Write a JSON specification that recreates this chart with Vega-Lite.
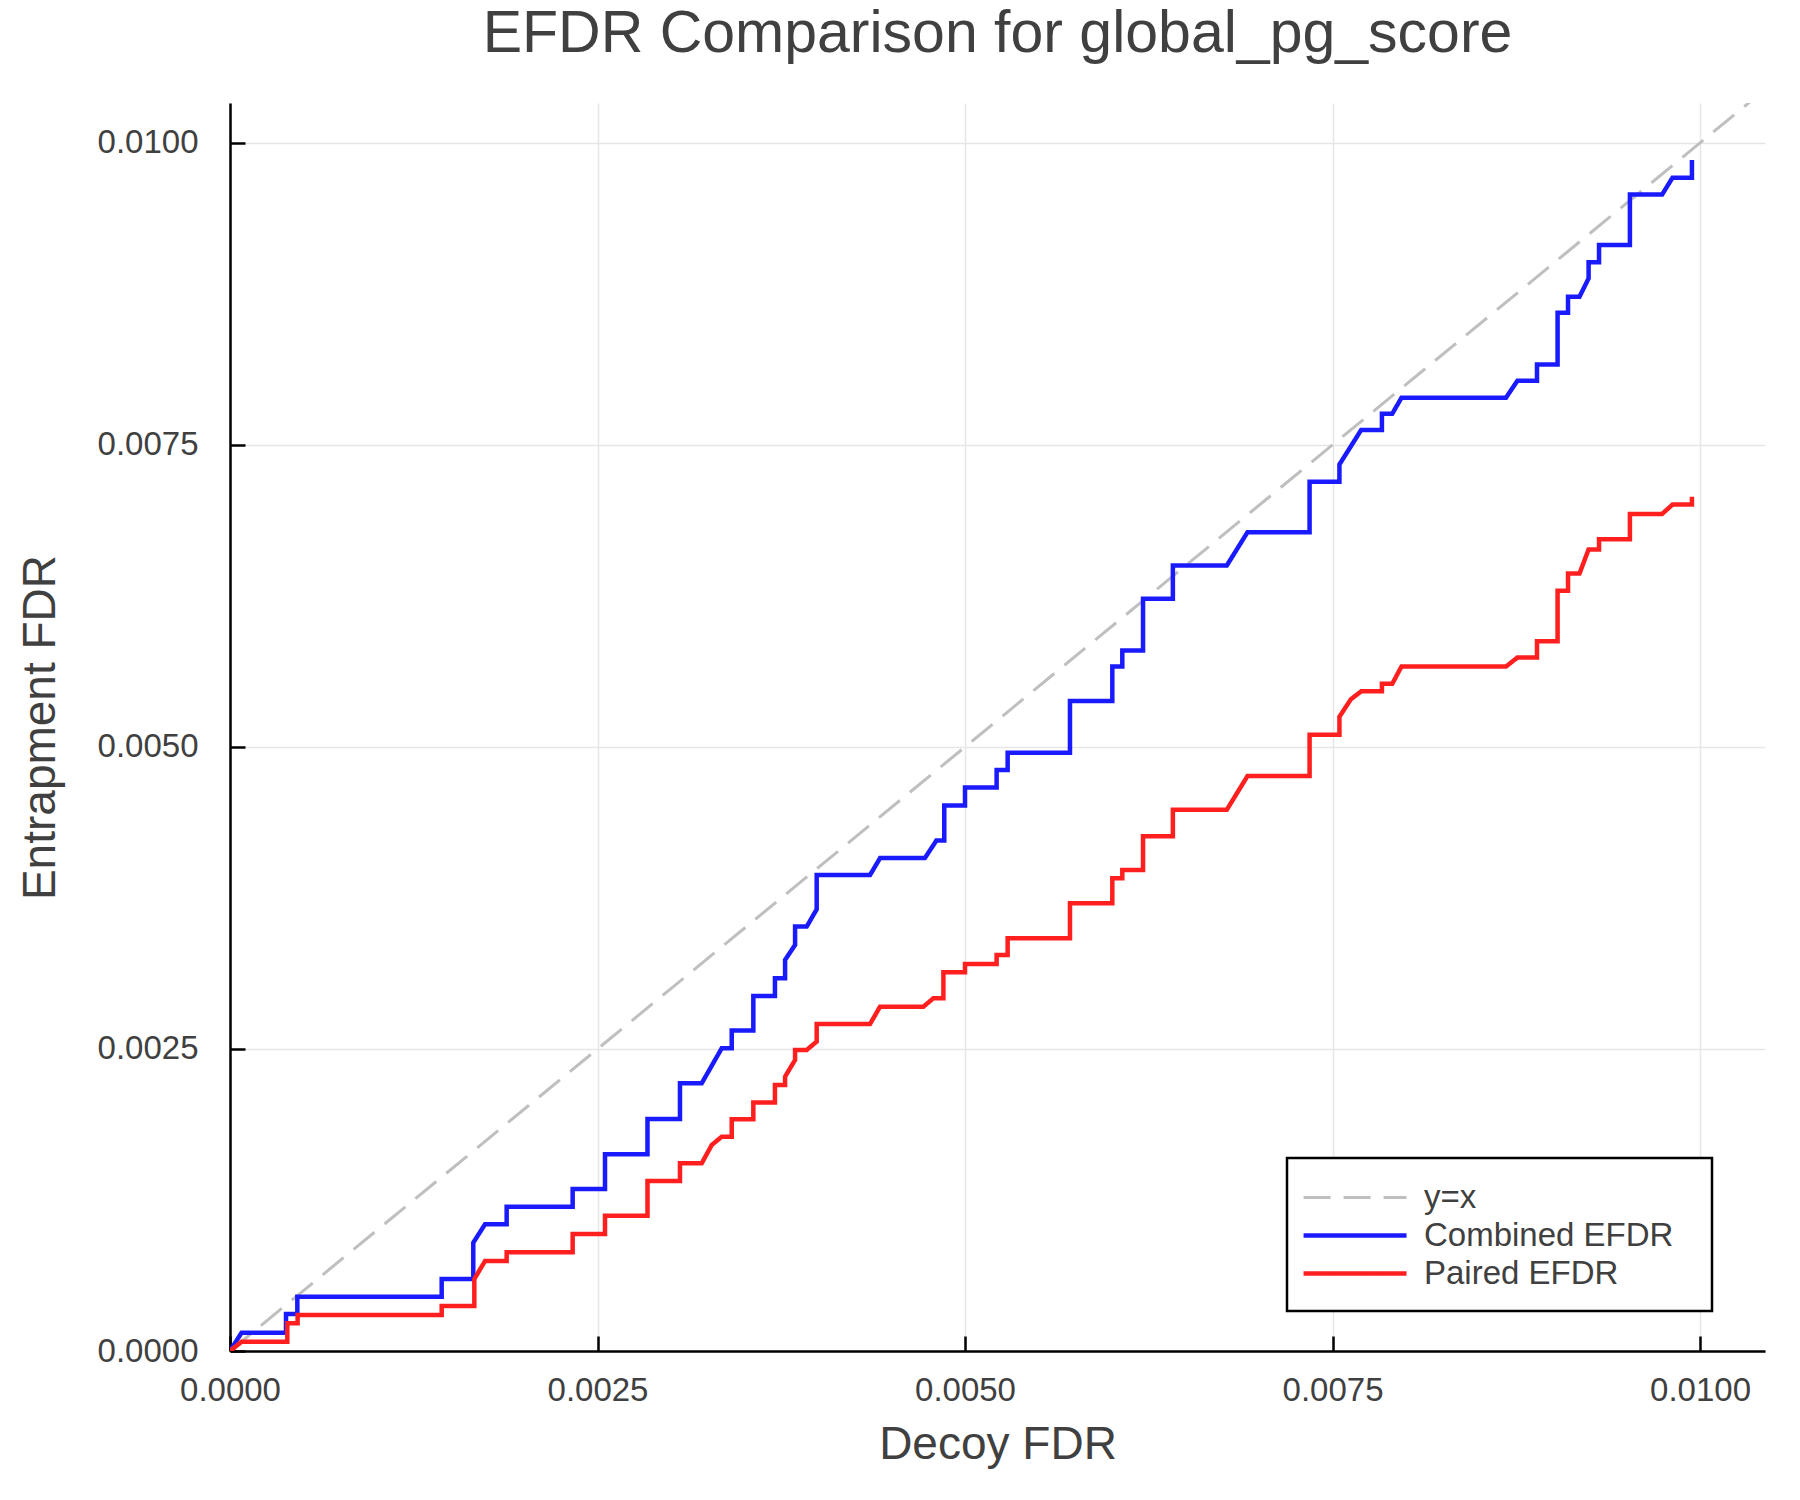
{
  "$schema": "https://vega.github.io/schema/vega-lite/v6.json",
  "width": 1535,
  "height": 1248,
  "autosize": "none",
  "padding": {"left": 230, "top": 103, "right": 35, "bottom": 149},
  "background": "white",
  "title": {
    "text": "EFDR Comparison for global_pg_score",
    "font": "Liberation Sans",
    "fontSize": 59,
    "fontWeight": "normal",
    "color": "#404040",
    "anchor": "middle",
    "baseline": "alphabetic",
    "offset": -8
  },
  "data": {
    "values": [
      {"s": "y=x", "i": 0, "x": 0, "y": 0},
      {"s": "y=x", "i": 1, "x": 0.0105, "y": 0.0105},
      {"s": "Combined EFDR", "i": 0, "x": 0, "y": 0},
      {"s": "Combined EFDR", "i": 1, "x": 0.000079, "y": 0.000152},
      {"s": "Combined EFDR", "i": 2, "x": 0.000381, "y": 0.000152},
      {"s": "Combined EFDR", "i": 3, "x": 0.000381, "y": 0.000306},
      {"s": "Combined EFDR", "i": 4, "x": 0.000458, "y": 0.000306},
      {"s": "Combined EFDR", "i": 5, "x": 0.000458, "y": 0.00045},
      {"s": "Combined EFDR", "i": 6, "x": 0.00144, "y": 0.00045},
      {"s": "Combined EFDR", "i": 7, "x": 0.00144, "y": 0.000596},
      {"s": "Combined EFDR", "i": 8, "x": 0.001655, "y": 0.000596},
      {"s": "Combined EFDR", "i": 9, "x": 0.001655, "y": 0.000897},
      {"s": "Combined EFDR", "i": 10, "x": 0.001735, "y": 0.001049},
      {"s": "Combined EFDR", "i": 11, "x": 0.001882, "y": 0.001049},
      {"s": "Combined EFDR", "i": 12, "x": 0.001882, "y": 0.001195},
      {"s": "Combined EFDR", "i": 13, "x": 0.002331, "y": 0.001195},
      {"s": "Combined EFDR", "i": 14, "x": 0.002331, "y": 0.001341},
      {"s": "Combined EFDR", "i": 15, "x": 0.002551, "y": 0.001341},
      {"s": "Combined EFDR", "i": 16, "x": 0.002551, "y": 0.001628},
      {"s": "Combined EFDR", "i": 17, "x": 0.00284, "y": 0.001628},
      {"s": "Combined EFDR", "i": 18, "x": 0.00284, "y": 0.001921},
      {"s": "Combined EFDR", "i": 19, "x": 0.003061, "y": 0.001921},
      {"s": "Combined EFDR", "i": 20, "x": 0.003061, "y": 0.002216},
      {"s": "Combined EFDR", "i": 21, "x": 0.003209, "y": 0.002216},
      {"s": "Combined EFDR", "i": 22, "x": 0.003345, "y": 0.002506},
      {"s": "Combined EFDR", "i": 23, "x": 0.003413, "y": 0.002506},
      {"s": "Combined EFDR", "i": 24, "x": 0.003413, "y": 0.002652},
      {"s": "Combined EFDR", "i": 25, "x": 0.00356, "y": 0.002652},
      {"s": "Combined EFDR", "i": 26, "x": 0.00356, "y": 0.002939},
      {"s": "Combined EFDR", "i": 27, "x": 0.003707, "y": 0.002939},
      {"s": "Combined EFDR", "i": 28, "x": 0.003707, "y": 0.003085},
      {"s": "Combined EFDR", "i": 29, "x": 0.003776, "y": 0.003085},
      {"s": "Combined EFDR", "i": 30, "x": 0.003776, "y": 0.003237},
      {"s": "Combined EFDR", "i": 31, "x": 0.003844, "y": 0.003361},
      {"s": "Combined EFDR", "i": 32, "x": 0.003844, "y": 0.003513},
      {"s": "Combined EFDR", "i": 33, "x": 0.003923, "y": 0.003513},
      {"s": "Combined EFDR", "i": 34, "x": 0.003991, "y": 0.003656},
      {"s": "Combined EFDR", "i": 35, "x": 0.003991, "y": 0.00394},
      {"s": "Combined EFDR", "i": 36, "x": 0.004354, "y": 0.00394},
      {"s": "Combined EFDR", "i": 37, "x": 0.004422, "y": 0.00408},
      {"s": "Combined EFDR", "i": 38, "x": 0.004727, "y": 0.00408},
      {"s": "Combined EFDR", "i": 39, "x": 0.004805, "y": 0.004225},
      {"s": "Combined EFDR", "i": 40, "x": 0.004859, "y": 0.004225},
      {"s": "Combined EFDR", "i": 41, "x": 0.004859, "y": 0.004515},
      {"s": "Combined EFDR", "i": 42, "x": 0.005, "y": 0.004515},
      {"s": "Combined EFDR", "i": 43, "x": 0.005, "y": 0.004665},
      {"s": "Combined EFDR", "i": 44, "x": 0.005215, "y": 0.004665},
      {"s": "Combined EFDR", "i": 45, "x": 0.005215, "y": 0.00481},
      {"s": "Combined EFDR", "i": 46, "x": 0.00529, "y": 0.00481},
      {"s": "Combined EFDR", "i": 47, "x": 0.00529, "y": 0.004952},
      {"s": "Combined EFDR", "i": 48, "x": 0.005714, "y": 0.004952},
      {"s": "Combined EFDR", "i": 49, "x": 0.005714, "y": 0.00538},
      {"s": "Combined EFDR", "i": 50, "x": 0.006002, "y": 0.00538},
      {"s": "Combined EFDR", "i": 51, "x": 0.006002, "y": 0.005665},
      {"s": "Combined EFDR", "i": 52, "x": 0.00607, "y": 0.005665},
      {"s": "Combined EFDR", "i": 53, "x": 0.00607, "y": 0.005798},
      {"s": "Combined EFDR", "i": 54, "x": 0.006211, "y": 0.005798},
      {"s": "Combined EFDR", "i": 55, "x": 0.006211, "y": 0.006226},
      {"s": "Combined EFDR", "i": 56, "x": 0.006414, "y": 0.006226},
      {"s": "Combined EFDR", "i": 57, "x": 0.006414, "y": 0.006502},
      {"s": "Combined EFDR", "i": 58, "x": 0.006781, "y": 0.006502},
      {"s": "Combined EFDR", "i": 59, "x": 0.006922, "y": 0.006778},
      {"s": "Combined EFDR", "i": 60, "x": 0.007344, "y": 0.006778},
      {"s": "Combined EFDR", "i": 61, "x": 0.007344, "y": 0.007196},
      {"s": "Combined EFDR", "i": 62, "x": 0.007547, "y": 0.007196},
      {"s": "Combined EFDR", "i": 63, "x": 0.007547, "y": 0.007338},
      {"s": "Combined EFDR", "i": 64, "x": 0.007695, "y": 0.007624},
      {"s": "Combined EFDR", "i": 65, "x": 0.007836, "y": 0.007624},
      {"s": "Combined EFDR", "i": 66, "x": 0.007836, "y": 0.007757},
      {"s": "Combined EFDR", "i": 67, "x": 0.007906, "y": 0.007757},
      {"s": "Combined EFDR", "i": 68, "x": 0.007969, "y": 0.00789},
      {"s": "Combined EFDR", "i": 69, "x": 0.00868, "y": 0.00789},
      {"s": "Combined EFDR", "i": 70, "x": 0.008758, "y": 0.008032},
      {"s": "Combined EFDR", "i": 71, "x": 0.008891, "y": 0.008032},
      {"s": "Combined EFDR", "i": 72, "x": 0.008891, "y": 0.008165},
      {"s": "Combined EFDR", "i": 73, "x": 0.009031, "y": 0.008165},
      {"s": "Combined EFDR", "i": 74, "x": 0.009031, "y": 0.008593},
      {"s": "Combined EFDR", "i": 75, "x": 0.009102, "y": 0.008593},
      {"s": "Combined EFDR", "i": 76, "x": 0.009102, "y": 0.008726},
      {"s": "Combined EFDR", "i": 77, "x": 0.00918, "y": 0.008726},
      {"s": "Combined EFDR", "i": 78, "x": 0.009242, "y": 0.008878},
      {"s": "Combined EFDR", "i": 79, "x": 0.009242, "y": 0.009011},
      {"s": "Combined EFDR", "i": 80, "x": 0.009313, "y": 0.009011},
      {"s": "Combined EFDR", "i": 81, "x": 0.009313, "y": 0.009154},
      {"s": "Combined EFDR", "i": 82, "x": 0.009523, "y": 0.009154},
      {"s": "Combined EFDR", "i": 83, "x": 0.009523, "y": 0.009572},
      {"s": "Combined EFDR", "i": 84, "x": 0.009742, "y": 0.009572},
      {"s": "Combined EFDR", "i": 85, "x": 0.009813, "y": 0.009712},
      {"s": "Combined EFDR", "i": 86, "x": 0.009945, "y": 0.009712},
      {"s": "Combined EFDR", "i": 87, "x": 0.009945, "y": 0.009858},
      {"s": "Paired EFDR", "i": 0, "x": 0, "y": 0},
      {"s": "Paired EFDR", "i": 1, "x": 0.000079, "y": 0.000077},
      {"s": "Paired EFDR", "i": 2, "x": 0.00039, "y": 0.000077},
      {"s": "Paired EFDR", "i": 3, "x": 0.00039, "y": 0.000229},
      {"s": "Paired EFDR", "i": 4, "x": 0.00046, "y": 0.000229},
      {"s": "Paired EFDR", "i": 5, "x": 0.00046, "y": 0.000298},
      {"s": "Paired EFDR", "i": 6, "x": 0.00144, "y": 0.000298},
      {"s": "Paired EFDR", "i": 7, "x": 0.00144, "y": 0.000373},
      {"s": "Paired EFDR", "i": 8, "x": 0.001662, "y": 0.000373},
      {"s": "Paired EFDR", "i": 9, "x": 0.001662, "y": 0.000596},
      {"s": "Paired EFDR", "i": 10, "x": 0.001735, "y": 0.000745},
      {"s": "Paired EFDR", "i": 11, "x": 0.001882, "y": 0.000745},
      {"s": "Paired EFDR", "i": 12, "x": 0.001882, "y": 0.000817},
      {"s": "Paired EFDR", "i": 13, "x": 0.002331, "y": 0.000817},
      {"s": "Paired EFDR", "i": 14, "x": 0.002331, "y": 0.000969},
      {"s": "Paired EFDR", "i": 15, "x": 0.002551, "y": 0.000969},
      {"s": "Paired EFDR", "i": 16, "x": 0.002551, "y": 0.00112},
      {"s": "Paired EFDR", "i": 17, "x": 0.00284, "y": 0.00112},
      {"s": "Paired EFDR", "i": 18, "x": 0.00284, "y": 0.001407},
      {"s": "Paired EFDR", "i": 19, "x": 0.003061, "y": 0.001407},
      {"s": "Paired EFDR", "i": 20, "x": 0.003061, "y": 0.001554},
      {"s": "Paired EFDR", "i": 21, "x": 0.003209, "y": 0.001554},
      {"s": "Paired EFDR", "i": 22, "x": 0.003277, "y": 0.001705},
      {"s": "Paired EFDR", "i": 23, "x": 0.003345, "y": 0.001774},
      {"s": "Paired EFDR", "i": 24, "x": 0.003413, "y": 0.001774},
      {"s": "Paired EFDR", "i": 25, "x": 0.003413, "y": 0.001918},
      {"s": "Paired EFDR", "i": 26, "x": 0.00356, "y": 0.001918},
      {"s": "Paired EFDR", "i": 27, "x": 0.00356, "y": 0.002056},
      {"s": "Paired EFDR", "i": 28, "x": 0.003707, "y": 0.002056},
      {"s": "Paired EFDR", "i": 29, "x": 0.003707, "y": 0.002202},
      {"s": "Paired EFDR", "i": 30, "x": 0.003776, "y": 0.002202},
      {"s": "Paired EFDR", "i": 31, "x": 0.003776, "y": 0.002271},
      {"s": "Paired EFDR", "i": 32, "x": 0.003844, "y": 0.002409},
      {"s": "Paired EFDR", "i": 33, "x": 0.003844, "y": 0.002492},
      {"s": "Paired EFDR", "i": 34, "x": 0.003923, "y": 0.002492},
      {"s": "Paired EFDR", "i": 35, "x": 0.003991, "y": 0.002561},
      {"s": "Paired EFDR", "i": 36, "x": 0.003991, "y": 0.002707},
      {"s": "Paired EFDR", "i": 37, "x": 0.004354, "y": 0.002707},
      {"s": "Paired EFDR", "i": 38, "x": 0.004422, "y": 0.00285},
      {"s": "Paired EFDR", "i": 39, "x": 0.004717, "y": 0.00285},
      {"s": "Paired EFDR", "i": 40, "x": 0.004785, "y": 0.00292},
      {"s": "Paired EFDR", "i": 41, "x": 0.004853, "y": 0.00292},
      {"s": "Paired EFDR", "i": 42, "x": 0.004853, "y": 0.003135},
      {"s": "Paired EFDR", "i": 43, "x": 0.005, "y": 0.003135},
      {"s": "Paired EFDR", "i": 44, "x": 0.005, "y": 0.003204},
      {"s": "Paired EFDR", "i": 45, "x": 0.005215, "y": 0.003204},
      {"s": "Paired EFDR", "i": 46, "x": 0.005215, "y": 0.003278},
      {"s": "Paired EFDR", "i": 47, "x": 0.00529, "y": 0.003278},
      {"s": "Paired EFDR", "i": 48, "x": 0.00529, "y": 0.003416},
      {"s": "Paired EFDR", "i": 49, "x": 0.005714, "y": 0.003416},
      {"s": "Paired EFDR", "i": 50, "x": 0.005714, "y": 0.003706},
      {"s": "Paired EFDR", "i": 51, "x": 0.006002, "y": 0.003706},
      {"s": "Paired EFDR", "i": 52, "x": 0.006002, "y": 0.003913},
      {"s": "Paired EFDR", "i": 53, "x": 0.00607, "y": 0.003913},
      {"s": "Paired EFDR", "i": 54, "x": 0.00607, "y": 0.003982},
      {"s": "Paired EFDR", "i": 55, "x": 0.006211, "y": 0.003982},
      {"s": "Paired EFDR", "i": 56, "x": 0.006211, "y": 0.00426},
      {"s": "Paired EFDR", "i": 57, "x": 0.006414, "y": 0.00426},
      {"s": "Paired EFDR", "i": 58, "x": 0.006414, "y": 0.00448},
      {"s": "Paired EFDR", "i": 59, "x": 0.006781, "y": 0.00448},
      {"s": "Paired EFDR", "i": 60, "x": 0.006922, "y": 0.00476},
      {"s": "Paired EFDR", "i": 61, "x": 0.007344, "y": 0.00476},
      {"s": "Paired EFDR", "i": 62, "x": 0.007344, "y": 0.0051},
      {"s": "Paired EFDR", "i": 63, "x": 0.007547, "y": 0.0051},
      {"s": "Paired EFDR", "i": 64, "x": 0.007547, "y": 0.00525},
      {"s": "Paired EFDR", "i": 65, "x": 0.007625, "y": 0.005395},
      {"s": "Paired EFDR", "i": 66, "x": 0.007695, "y": 0.00546},
      {"s": "Paired EFDR", "i": 67, "x": 0.007836, "y": 0.00546},
      {"s": "Paired EFDR", "i": 68, "x": 0.007836, "y": 0.005522},
      {"s": "Paired EFDR", "i": 69, "x": 0.007906, "y": 0.005522},
      {"s": "Paired EFDR", "i": 70, "x": 0.007969, "y": 0.005665},
      {"s": "Paired EFDR", "i": 71, "x": 0.00868, "y": 0.005665},
      {"s": "Paired EFDR", "i": 72, "x": 0.008758, "y": 0.00574},
      {"s": "Paired EFDR", "i": 73, "x": 0.008891, "y": 0.00574},
      {"s": "Paired EFDR", "i": 74, "x": 0.008891, "y": 0.005875},
      {"s": "Paired EFDR", "i": 75, "x": 0.009031, "y": 0.005875},
      {"s": "Paired EFDR", "i": 76, "x": 0.009031, "y": 0.006293},
      {"s": "Paired EFDR", "i": 77, "x": 0.009102, "y": 0.006293},
      {"s": "Paired EFDR", "i": 78, "x": 0.009102, "y": 0.006435},
      {"s": "Paired EFDR", "i": 79, "x": 0.00918, "y": 0.006435},
      {"s": "Paired EFDR", "i": 80, "x": 0.009242, "y": 0.006635},
      {"s": "Paired EFDR", "i": 81, "x": 0.009313, "y": 0.006635},
      {"s": "Paired EFDR", "i": 82, "x": 0.009313, "y": 0.00672},
      {"s": "Paired EFDR", "i": 83, "x": 0.009523, "y": 0.00672},
      {"s": "Paired EFDR", "i": 84, "x": 0.009523, "y": 0.006929},
      {"s": "Paired EFDR", "i": 85, "x": 0.009742, "y": 0.006929},
      {"s": "Paired EFDR", "i": 86, "x": 0.009813, "y": 0.007006},
      {"s": "Paired EFDR", "i": 87, "x": 0.009945, "y": 0.007006},
      {"s": "Paired EFDR", "i": 88, "x": 0.009945, "y": 0.00707}
    ]
  },
  "mark": {"type": "line", "clip": true, "interpolate": "linear"},
  "encoding": {
    "x": {
      "field": "x",
      "type": "quantitative",
      "title": "Decoy FDR",
      "scale": {"domain": [0, 0.010442], "nice": false, "zero": false},
      "axis": {"values": [0, 0.0025, 0.005, 0.0075, 0.01], "format": ".4f", "labelFlush": false, "labelPadding": 38, "titlePadding": 15}
    },
    "y": {
      "field": "y",
      "type": "quantitative",
      "title": "Entrapment FDR",
      "scale": {"domain": [0, 0.01033], "nice": false, "zero": false},
      "axis": {"values": [0, 0.0025, 0.005, 0.0075, 0.01], "format": ".4f", "labelFlush": false, "labelPadding": 47, "titlePadding": 33}
    },
    "order": {"field": "i", "type": "quantitative"},
    "color": {
      "field": "s",
      "type": "nominal",
      "scale": {"domain": ["y=x", "Combined EFDR", "Paired EFDR"], "range": ["#bfbfbf", "#1a1aff", "#ff1f1f"]},
      "legend": {"title": " ", "titleOrient": "right", "titleFontSize": 2, "titlePadding": 19, "symbolType": "M-1.33,0H4.39", "labelLimit": 500}
    },
    "strokeDash": {
      "field": "s",
      "type": "nominal",
      "scale": {"domain": ["y=x", "Combined EFDR", "Paired EFDR"], "range": [[27, 13], [1, 0], [1, 0]]},
      "legend": {"title": " ", "titleOrient": "right", "titleFontSize": 2, "titlePadding": 19, "symbolType": "M-1.33,0H4.39", "labelLimit": 500}
    },
    "strokeWidth": {
      "field": "s",
      "type": "nominal",
      "scale": {"type": "ordinal", "domain": ["y=x", "Combined EFDR", "Paired EFDR"], "range": [3, 4.5, 4.5]},
      "legend": null
    }
  },
  "config": {
    "view": {"stroke": null},
    "axis": {
      "domainColor": "black",
      "domainWidth": 2.5,
      "tickColor": "black",
      "tickWidth": 2.5,
      "tickSize": -15,
      "grid": true,
      "gridColor": "#e6e6e6",
      "gridWidth": 1.5,
      "labelFont": "Liberation Sans",
      "labelFontSize": 33,
      "labelColor": "#404040",
      "titleFont": "Liberation Sans",
      "titleFontSize": 46,
      "titleFontWeight": "normal",
      "titleColor": "#404040"
    },
    "legend": {
      "orient": "none",
      "legendX": 1057,
      "legendY": 1055,
      "padding": 20,
      "strokeColor": "black",
      "strokeWidth": 2.5,
      "fillColor": "white",
      "cornerRadius": 0,
      "symbolSize": 1296,
      "symbolStrokeWidth": 4.5,
      "symbolType": "M-1.33,0H4.39",
      "labelOffset": 76,
      "labelLimit": 500,
      "labelFont": "Liberation Sans",
      "labelFontSize": 33,
      "labelColor": "#404040",
      "rowPadding": 0
    }
  }
}
